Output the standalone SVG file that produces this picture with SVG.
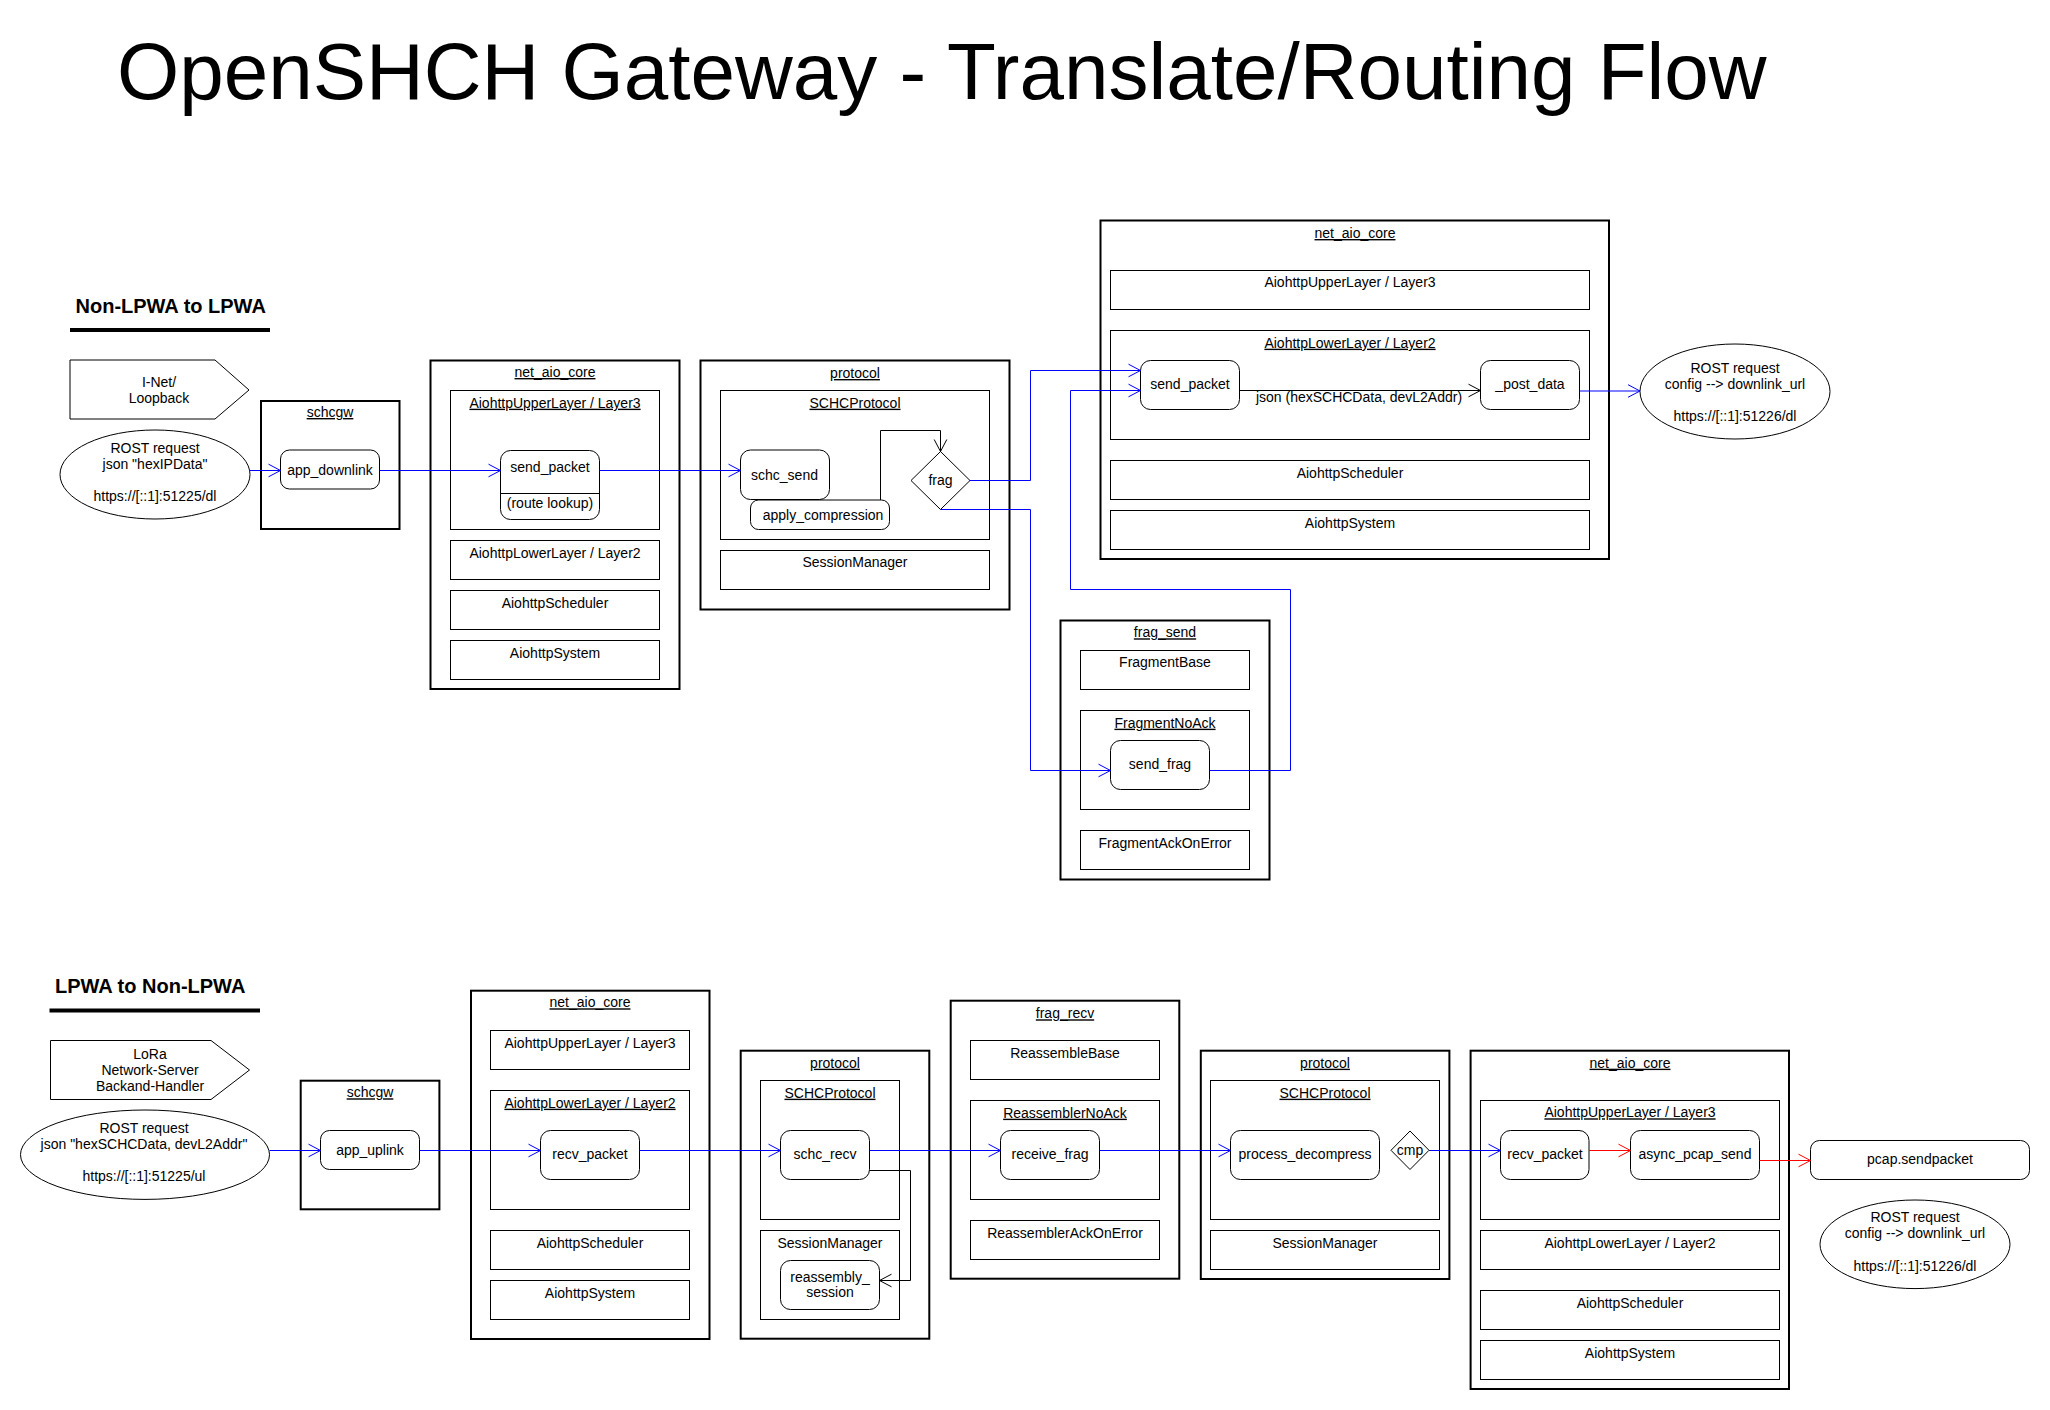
<svg xmlns="http://www.w3.org/2000/svg" width="2050" height="1410" viewBox="0 0 2050 1410">
<style>
text{font-family:"Liberation Sans",Arial,sans-serif;font-size:14px;fill:#000}
.c{text-anchor:middle}
.u{text-decoration:underline}
.h{font-weight:bold;font-size:20px}
.pkg{fill:#fff;stroke:#000;stroke-width:2}
.cls{fill:#fff;stroke:#000;stroke-width:1}
.act{fill:#fff;stroke:#000;stroke-width:1}
.blue{fill:none;stroke:#0000ff;stroke-width:1;marker-end:url(#ab)}
.red{fill:none;stroke:#ff0000;stroke-width:1;marker-end:url(#ar)}
.blk{fill:none;stroke:#000;stroke-width:1;marker-end:url(#ak)}
</style>
<defs>
<marker id="ab" markerUnits="userSpaceOnUse" markerWidth="14" markerHeight="14" refX="12" refY="7" orient="auto" overflow="visible"><path d="M0,0.7 L12,7 L0,13.3" fill="none" stroke="#0000ff" stroke-width="1"/></marker>
<marker id="ar" markerUnits="userSpaceOnUse" markerWidth="14" markerHeight="14" refX="12" refY="7" orient="auto" overflow="visible"><path d="M0,0.7 L12,7 L0,13.3" fill="none" stroke="#ff0000" stroke-width="1"/></marker>
<marker id="ak" markerUnits="userSpaceOnUse" markerWidth="14" markerHeight="14" refX="12" refY="7" orient="auto" overflow="visible"><path d="M0,0.7 L12,7 L0,13.3" fill="none" stroke="#000" stroke-width="1"/></marker>
</defs>
<rect width="2050" height="1410" fill="#fff"/>

<text id="title" x="117" y="99" style="font-size:80px">OpenSHCH Gateway - Translate/Routing Flow</text>

<g id="heading-top">
<text class="h" x="75.5" y="313">Non-LPWA to LPWA</text>
<rect x="70" y="328" width="200" height="4" fill="#000"/>
</g>
<g id="heading-bottom">
<text class="h" x="55" y="993">LPWA to Non-LPWA</text>
<rect x="49.5" y="1008.5" width="210.5" height="4" fill="#000"/>
</g>

<!-- ===== Top flow ===== -->
<g id="inet">
<polygon class="cls" points="70,360 215,360 249,390 215,419 70,419"/>
<text class="c" x="159" y="387">I-Net/</text>
<text class="c" x="159" y="403">Loopback</text>
</g>
<g id="rost-dl-in">
<ellipse class="cls" cx="155" cy="474.5" rx="95" ry="44.5"/>
<text class="c" x="155" y="453">ROST request</text>
<text class="c" x="155" y="469">json "hexIPData"</text>
<text class="c" x="155" y="501">https://[::1]:51225/dl</text>
</g>

<g id="schcgw-top">
<rect class="pkg" x="261" y="401" width="138.5" height="128"/>
<text class="c u" x="330" y="417">schcgw</text>
<g id="app_downlink">
<rect class="act" x="280.5" y="450" width="99" height="39" rx="9"/>
<text class="c" x="330" y="475">app_downlink</text>
</g>
</g>

<g id="net_aio_core-top1">
<rect class="pkg" x="430.5" y="360.5" width="249" height="328.5"/>
<text class="c u" x="555" y="377">net_aio_core</text>
<g id="upper1">
<rect class="cls" x="450.5" y="390.5" width="209" height="139"/>
<text class="c u" x="555" y="407.7">AiohttpUpperLayer / Layer3</text>
</g>
<g id="send_packet1">
<rect class="act" x="500.5" y="450.5" width="99" height="69" rx="10"/>
<line x1="500.5" y1="493.5" x2="599.5" y2="493.5" stroke="#000" stroke-width="1"/>
<text class="c" x="550" y="472">send_packet</text>
<text class="c" x="550" y="507.7">(route lookup)</text>
</g>
<g id="lower1">
<rect class="cls" x="450.5" y="540.5" width="209" height="39"/>
<text class="c" x="555" y="557.7">AiohttpLowerLayer / Layer2</text>
</g>
<g id="sched1">
<rect class="cls" x="450.5" y="590.5" width="209" height="39"/>
<text class="c" x="555" y="607.7">AiohttpScheduler</text>
</g>
<g id="system1">
<rect class="cls" x="450.5" y="640.5" width="209" height="39"/>
<text class="c" x="555" y="657.7">AiohttpSystem</text>
</g>
</g>

<g id="protocol-top">
<rect class="pkg" x="700.5" y="360.5" width="309" height="249"/>
<text class="c u" x="855" y="378">protocol</text>
<g id="schcprotocol-top">
<rect class="cls" x="720.5" y="390.5" width="269" height="149"/>
<text class="c u" x="855" y="407.7">SCHCProtocol</text>
</g>
<g id="schc_send">
<rect class="act" x="740.5" y="450" width="89" height="49.5" rx="10"/>
<text class="c" x="784.5" y="480">schc_send</text>
</g>
<g id="apply_compression">
<rect class="act" x="750.5" y="500" width="139" height="29.5" rx="8"/>
<text class="c" x="823" y="520">apply_compression</text>
</g>
<g id="frag">
<polygon class="act" points="940.5,451.5 970,480.5 940.5,509.5 911,480.5"/>
<text class="c" x="940.5" y="485">frag</text>
</g>
<g id="sessionmgr-top">
<rect class="cls" x="720.5" y="550.5" width="269" height="39"/>
<text class="c" x="855" y="567.3">SessionManager</text>
</g>
</g>

<g id="net_aio_core-top2">
<rect class="pkg" x="1100.5" y="220.5" width="508.5" height="338.5"/>
<text class="c u" x="1355" y="238">net_aio_core</text>
<g id="upper2">
<rect class="cls" x="1110.5" y="270.5" width="479" height="39"/>
<text class="c" x="1350" y="287.3">AiohttpUpperLayer / Layer3</text>
</g>
<g id="lower2">
<rect class="cls" x="1110.5" y="330.5" width="479" height="109"/>
<text class="c u" x="1350" y="347.7">AiohttpLowerLayer / Layer2</text>
</g>
<g id="send_packet2">
<rect class="act" x="1140.5" y="360.5" width="99" height="49" rx="10"/>
<text class="c" x="1190" y="389.3">send_packet</text>
</g>
<g id="post_data">
<rect class="act" x="1480.5" y="360.5" width="99" height="49" rx="10"/>
<text class="c" x="1530" y="389.3">_post_data</text>
</g>
<g id="sched2">
<rect class="cls" x="1110.5" y="460.5" width="479" height="39"/>
<text class="c" x="1350" y="477.7">AiohttpScheduler</text>
</g>
<g id="system2">
<rect class="cls" x="1110.5" y="510.5" width="479" height="39"/>
<text class="c" x="1350" y="527.7">AiohttpSystem</text>
</g>
</g>

<g id="rost-dl-out-top">
<ellipse class="cls" cx="1735" cy="391.5" rx="95" ry="47.5"/>
<text class="c" x="1735" y="372.7">ROST request</text>
<text class="c" x="1735" y="388.5">config --&gt; downlink_url</text>
<text class="c" x="1735" y="420.7">https://[::1]:51226/dl</text>
</g>

<g id="frag_send">
<rect class="pkg" x="1060.5" y="620.5" width="209" height="259"/>
<text class="c u" x="1165" y="637.3">frag_send</text>
<g id="fragmentbase">
<rect class="cls" x="1080.5" y="650.5" width="169" height="39"/>
<text class="c" x="1165" y="667.3">FragmentBase</text>
</g>
<g id="fragmentnoack">
<rect class="cls" x="1080.5" y="710.5" width="169" height="99"/>
<text class="c u" x="1165" y="727.7">FragmentNoAck</text>
</g>
<g id="send_frag">
<rect class="act" x="1110.5" y="740.5" width="99" height="49" rx="10"/>
<text class="c" x="1160" y="769.3">send_frag</text>
</g>
<g id="fragmentackonerror">
<rect class="cls" x="1080.5" y="830.5" width="169" height="39"/>
<text class="c" x="1165" y="847.7">FragmentAckOnError</text>
</g>
</g>

<!-- ===== Bottom flow ===== -->
<g id="lora">
<polygon class="cls" points="50.5,1040.5 211,1040.5 249.5,1070 211,1099.5 50.5,1099.5"/>
<text class="c" x="150" y="1059">LoRa</text>
<text class="c" x="150" y="1075">Network-Server</text>
<text class="c" x="150" y="1091">Backand-Handler</text>
</g>
<g id="rost-ul-in">
<ellipse class="cls" cx="145" cy="1154.7" rx="124.5" ry="44.7"/>
<text class="c" x="144" y="1132.7">ROST request</text>
<text class="c" x="144" y="1148.7">json "hexSCHCData, devL2Addr"</text>
<text class="c" x="144" y="1181">https://[::1]:51225/ul</text>
</g>

<g id="schcgw-bottom">
<rect class="pkg" x="300.7" y="1080.7" width="138.7" height="128.6"/>
<text class="c u" x="370" y="1097.3">schcgw</text>
<g id="app_uplink">
<rect class="act" x="320.5" y="1130.5" width="99" height="39" rx="9"/>
<text class="c" x="370" y="1155">app_uplink</text>
</g>
</g>

<g id="net_aio_core-b1">
<rect class="pkg" x="471" y="990.7" width="238.5" height="348.3"/>
<text class="c u" x="590" y="1007.3">net_aio_core</text>
<g id="upper3">
<rect class="cls" x="490.5" y="1030.5" width="199" height="39"/>
<text class="c" x="590" y="1047.7">AiohttpUpperLayer / Layer3</text>
</g>
<g id="lower3">
<rect class="cls" x="490.5" y="1090.5" width="199" height="119"/>
<text class="c u" x="590" y="1107.7">AiohttpLowerLayer / Layer2</text>
</g>
<g id="recv_packet1">
<rect class="act" x="540.5" y="1130.5" width="99" height="49" rx="10"/>
<text class="c" x="590" y="1159.3">recv_packet</text>
</g>
<g id="sched3">
<rect class="cls" x="490.5" y="1230.5" width="199" height="39"/>
<text class="c" x="590" y="1247.7">AiohttpScheduler</text>
</g>
<g id="system3">
<rect class="cls" x="490.5" y="1280.5" width="199" height="39"/>
<text class="c" x="590" y="1297.7">AiohttpSystem</text>
</g>
</g>

<g id="protocol-b1">
<rect class="pkg" x="740.7" y="1050.7" width="188.6" height="288"/>
<text class="c u" x="835" y="1067.7">protocol</text>
<g id="schcprotocol-b1">
<rect class="cls" x="760.5" y="1080.5" width="139" height="139"/>
<text class="c u" x="830" y="1097.7">SCHCProtocol</text>
</g>
<g id="schc_recv">
<rect class="act" x="780.5" y="1130.5" width="89" height="49" rx="10"/>
<text class="c" x="825" y="1159.3">schc_recv</text>
</g>
<g id="sessionmgr-b1">
<rect class="cls" x="760.5" y="1230.5" width="139" height="89"/>
<text class="c" x="830" y="1247.7">SessionManager</text>
</g>
<g id="reassembly_session">
<rect class="act" x="780.5" y="1260.5" width="99" height="49" rx="10"/>
<text class="c" x="830" y="1281.7">reassembly_</text>
<text class="c" x="830" y="1297.3">session</text>
</g>
</g>

<g id="frag_recv">
<rect class="pkg" x="950.7" y="1000.7" width="228.6" height="278"/>
<text class="c u" x="1065" y="1018.3">frag_recv</text>
<g id="reassemblebase">
<rect class="cls" x="970.5" y="1040.5" width="189" height="39"/>
<text class="c" x="1065" y="1057.7">ReassembleBase</text>
</g>
<g id="reassemblernoack">
<rect class="cls" x="970.5" y="1100.5" width="189" height="99"/>
<text class="c u" x="1065" y="1117.7">ReassemblerNoAck</text>
</g>
<g id="receive_frag">
<rect class="act" x="1000.5" y="1130.5" width="99" height="49" rx="10"/>
<text class="c" x="1050" y="1159.3">receive_frag</text>
</g>
<g id="reassembleracKonerror">
<rect class="cls" x="970.5" y="1220.5" width="189" height="39"/>
<text class="c" x="1065" y="1237.7">ReassemblerAckOnError</text>
</g>
</g>

<g id="protocol-b2">
<rect class="pkg" x="1200.8" y="1050.7" width="248.6" height="228.3"/>
<text class="c u" x="1325" y="1067.7">protocol</text>
<g id="schcprotocol-b2">
<rect class="cls" x="1210.5" y="1080.5" width="229" height="139"/>
<text class="c u" x="1325" y="1097.7">SCHCProtocol</text>
</g>
<g id="process_decompress">
<rect class="act" x="1230.5" y="1130.5" width="149" height="49" rx="10"/>
<text class="c" x="1305" y="1159.3">process_decompress</text>
</g>
<g id="cmp">
<polygon class="act" points="1410,1131 1429,1150.3 1410,1169.5 1391,1150.3"/>
<text class="c" x="1410" y="1154.5">cmp</text>
</g>
<g id="sessionmgr-b2">
<rect class="cls" x="1210.5" y="1230.5" width="229" height="39"/>
<text class="c" x="1325" y="1247.7">SessionManager</text>
</g>
</g>

<g id="net_aio_core-b2">
<rect class="pkg" x="1470.6" y="1050.7" width="318.4" height="338.3"/>
<text class="c u" x="1630" y="1067.7">net_aio_core</text>
<g id="upper4">
<rect class="cls" x="1480.5" y="1100.5" width="299" height="119"/>
<text class="c u" x="1630" y="1117.3">AiohttpUpperLayer / Layer3</text>
</g>
<g id="recv_packet2">
<rect class="act" x="1500.5" y="1130.5" width="88.5" height="49" rx="10"/>
<text class="c" x="1545" y="1159.3">recv_packet</text>
</g>
<g id="async_pcap_send">
<rect class="act" x="1630.5" y="1130.5" width="129" height="49" rx="10"/>
<text class="c" x="1695" y="1159.3">async_pcap_send</text>
</g>
<g id="lower4">
<rect class="cls" x="1480.5" y="1230.5" width="299" height="39"/>
<text class="c" x="1630" y="1247.7">AiohttpLowerLayer / Layer2</text>
</g>
<g id="sched4">
<rect class="cls" x="1480.5" y="1290.5" width="299" height="39"/>
<text class="c" x="1630" y="1307.7">AiohttpScheduler</text>
</g>
<g id="system4">
<rect class="cls" x="1480.5" y="1340.5" width="299" height="39"/>
<text class="c" x="1630" y="1357.7">AiohttpSystem</text>
</g>
</g>

<g id="pcap_sendpacket">
<rect class="act" x="1810.5" y="1140.5" width="219" height="39" rx="9"/>
<text class="c" x="1920" y="1164.3">pcap.sendpacket</text>
</g>
<g id="rost-dl-out-bottom">
<ellipse class="cls" cx="1915" cy="1244.3" rx="95" ry="44.3"/>
<text class="c" x="1915" y="1222.3">ROST request</text>
<text class="c" x="1915" y="1238.3">config --&gt; downlink_url</text>
<text class="c" x="1915" y="1270.5">https://[::1]:51226/dl</text>
</g>

<!-- ===== Connectors ===== -->
<g id="connectors">
<path class="blue" d="M250,470.5 H280.5"/>
<path class="blue" d="M379.5,470.5 H500.5"/>
<path class="blue" d="M599.5,470.5 H740.5"/>
<path class="blue" d="M970,480.5 H1030.5 V370.5 H1140.5"/>
<path class="blue" d="M940.5,509.5 H1030.5 V770.5 H1110.5"/>
<path class="blue" d="M1209.5,770.5 H1290.5 V589.5 H1070.5 V390.5 H1140.5"/>
<path class="blue" d="M1579.5,391 H1640"/>
<path class="blk" d="M880.5,500 V430.5 H940.5 V451.5"/>
<path class="blk" d="M1239.5,390.5 H1480.5"/>
<text id="json-label" class="c" x="1359" y="401.7">json (hexSCHCData, devL2Addr)</text>

<path class="blue" d="M269.5,1150.5 H320.5"/>
<path class="blue" d="M419.5,1150.5 H540.5"/>
<path class="blue" d="M639.5,1150.5 H780.5"/>
<path class="blue" d="M869.5,1150.5 H1000.5"/>
<path class="blue" d="M1099.5,1150.5 H1230.5"/>
<path class="blue" d="M1429,1150.5 H1500.5"/>
<path class="blk" d="M869.5,1170.5 H910.5 V1280.5 H879.5"/>
<path class="red" d="M1589,1150.5 H1630.5"/>
<path class="red" d="M1759.5,1160.5 H1810.5"/>
</g>
</svg>
